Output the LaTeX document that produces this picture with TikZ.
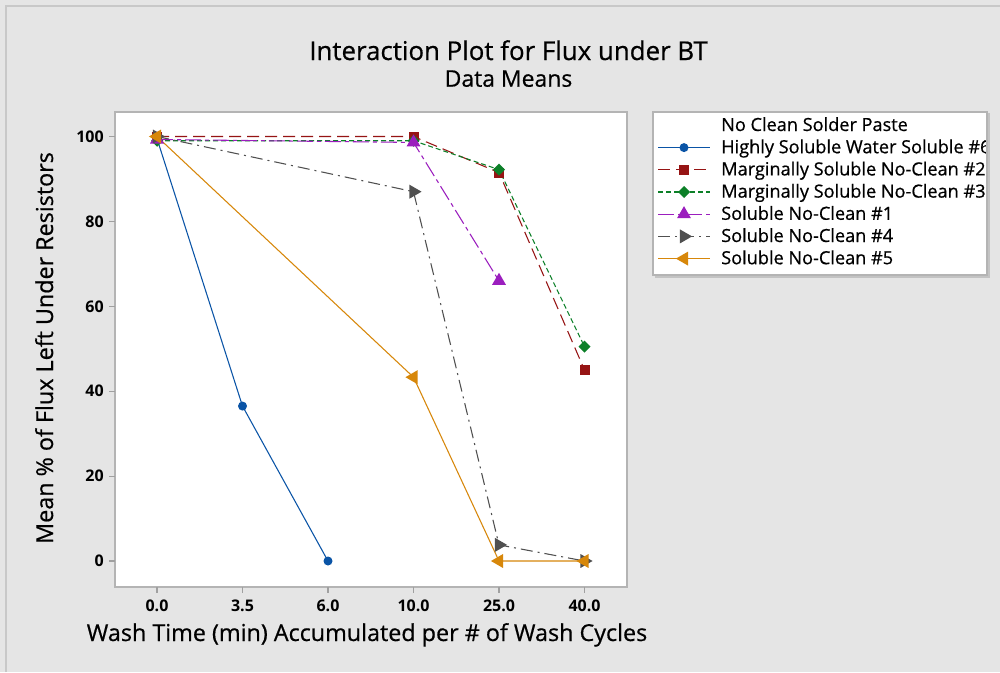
\documentclass[tikz,border=0pt]{standalone}
\usepackage{fontspec}
\setmainfont{Open Sans}
\newfontfamily\labfont{Open Sans}[FakeBold=0.6]
\usetikzlibrary{shapes.geometric}

\definecolor{bg}{RGB}{229,229,229}
\definecolor{edgegray}{RGB}{200,200,200}
\definecolor{framegray}{RGB}{180,180,180}
\definecolor{tickgray}{RGB}{160,160,160}
\definecolor{cblue}{RGB}{10,84,166}
\definecolor{cred}{RGB}{150,20,20}
\definecolor{cgreen}{RGB}{12,128,40}
\definecolor{cpurple}{RGB}{155,30,190}
\definecolor{cgray}{RGB}{80,80,80}
\definecolor{corange}{RGB}{215,135,10}

\tikzset{
  ln/.style={line width=0.8pt, line join=round},
  sblue/.style={ln, cblue},
  sred/.style={ln, cred, dash pattern=on 9pt off 4.5pt},
  sgreen/.style={ln, cgreen, dash pattern=on 3.75pt off 2.25pt},
  spurple/.style={ln, cpurple, dash pattern=on 12pt off 3pt on 3pt off 3pt},
  sgray/.style={ln, cgray, dash pattern=on 9pt off 3.75pt on 1.5pt off 3.75pt},
  sorange/.style={ln, corange},
  mk/.style={inner sep=0pt, outer sep=0pt, draw=none},
  mcirc/.style={mk, circle, fill=cblue, minimum size=6.75pt},
  msq/.style={mk, rectangle, fill=cred, minimum size=7.5pt},
  mdia/.style={mk, diamond, fill=cgreen, minimum width=9pt, minimum height=9pt},
  mtri/.style={mk, regular polygon, regular polygon sides=3, minimum size=12.1pt},
  mup/.style={mtri, fill=cpurple},
  mright/.style={mtri, fill=cgray, rotate=-90},
  mleft/.style={mtri, fill=corange, rotate=90},
  ticklab/.style={inner sep=0pt, font=\fontsize{12pt}{14pt}\selectfont\bfseries},
  leglab/.style={inner sep=0pt, anchor=base west, font=\labfont\fontsize{13.6pt}{16pt}\selectfont},
  axlab/.style={inner sep=0pt, anchor=base, font=\labfont\fontsize{17.5pt}{20pt}\selectfont},
}

\begin{document}
\begin{tikzpicture}[x=0.75pt,y=-0.75pt]
\useasboundingbox (0,0) rectangle (1000,672);
\fill[bg] (0,0) rectangle (1000,672);
\draw[edgegray, line width=0.9pt] (6,672) -- (6,6) -- (1000,6);

% titles
\node[inner sep=0pt, anchor=base, font=\labfont\fontsize{19.4pt}{22pt}\selectfont] (title) at (508.5,60) {Interaction Plot for Flux under BT};
\node[inner sep=0pt, anchor=base, font=\labfont\fontsize{17.2pt}{20pt}\selectfont] (subtitle) at (508.5,86.7) {Data Means};

% plot frame
\draw[framegray, line width=1.3pt, fill=white] (115,112) rectangle (627,587);

% y axis
\foreach \v in {0,20,...,100} {
  \draw[tickgray, line width=0.8pt] (109,{561-4.245*\v}) -- (115,{561-4.245*\v});
  \node[ticklab, anchor=east] (ylab\v) at (104,{561-4.245*\v}) {\v};
}
% x axis
\foreach \lab [count=\i from 0] in {0.0,3.5,6.0,10.0,25.0,40.0} {
  \draw[tickgray, line width=0.8pt] ({157+85.5*\i},587) -- ({157+85.5*\i},593);
  \node[ticklab, anchor=base] (xlab\i) at ({157+85.5*\i},611) {\lab};
}

\node[axlab] (xtitle) at (367,641) {Wash Time (min) Accumulated per \# of Wash Cycles};
\node[axlab, rotate=90] (ytitle) at (53,348) {Mean \% of Flux Left Under Resistors};

% data series, in category / percent units
\begin{scope}[shift={(157,561)}, x=64.125pt, y=3.18375pt]
  \coordinate (b0) at (0,99.5);  \coordinate (b1) at (1,36.5); \coordinate (b2) at (2,0);
  \coordinate (r0) at (0,100);   \coordinate (r3) at (3,100);  \coordinate (r4) at (4,91.5); \coordinate (r5) at (5,45);
  \coordinate (g0) at (0,99);    \coordinate (g3) at (3,99);   \coordinate (g4) at (4,92.2); \coordinate (g5) at (5,50.5);
  \coordinate (p0) at (0,99.3);  \coordinate (p3) at (3,98.6); \coordinate (p4) at (4,66);
  \coordinate (k0) at (0,100);   \coordinate (k3) at (3,87);   \coordinate (k4) at (4,3.8);  \coordinate (k5) at (5,0);
  \coordinate (o0) at (0,100);   \coordinate (o3) at (3,43.3); \coordinate (o4) at (4,0);    \coordinate (o5) at (5,0);
\end{scope}

\draw[sblue] (b0) -- (b1) -- (b2);
\draw[sred] (r0) -- (r3) -- (r4) -- (r5);
\draw[sgreen] (g0) -- (g3) -- (g4) -- (g5);
\draw[spurple] (p0) -- (p3) -- (p4);
\draw[sgray] (k0) -- (k3) -- (k4) -- (k5);
\draw[sorange] (o0) -- (o3) -- (o4) -- (o5);

\foreach \c in {b0,b1,b2} \node[mcirc] (M\c) at (\c) {};
\foreach \c in {r0,r3,r4,r5} \node[msq] (M\c) at (\c) {};
\foreach \c in {g0,g3,g4,g5} \node[mdia] (M\c) at (\c) {};
\foreach \c in {p0,p3,p4} \node[mup] (M\c) at (\c) {};
\foreach \c in {k0,k3,k4,k5} \node[mright] (M\c) at (\c) {};
\foreach \c in {o0,o3,o4,o5} \node[mleft] (M\c) at (\c) {};

% legend
\draw[framegray!80, line width=1.2pt] (655,114) -- (989,114) -- (989,277) -- (655,277);
\begin{scope}
  \clip (653,112) rectangle (987,275);
  \fill[white] (653,112) rectangle (987,275);
  \node[leglab] (legtitle) at (721,131) {No Clean Solder Paste};
  \foreach \st/\mkst/\txt [count=\k] in {
      sblue/mcirc/{Highly Soluble Water Soluble \#6},
      sred/msq/{Marginally Soluble No-Clean \#2},
      sgreen/mdia/{Marginally Soluble No-Clean \#3},
      spurple/mup/{Soluble No-Clean \#1},
      sgray/mright/{Soluble No-Clean \#4},
      sorange/mleft/{Soluble No-Clean \#5}} {
    \coordinate (la\k) at (658,{131+22.2*\k-5.6});
    \coordinate (lb\k) at (710,{131+22.2*\k-5.6});
    \draw[\st] (la\k) -- (lb\k);
    \node[\mkst] (lm\k) at (684,{131+22.2*\k-5.6}) {};
    \node[leglab] (lt\k) at (721,{131+22.2*\k}) {\txt};
  }
\end{scope}
\draw[framegray, line width=0.8pt] (653,112) rectangle (987,275);
\end{tikzpicture}
\end{document}
